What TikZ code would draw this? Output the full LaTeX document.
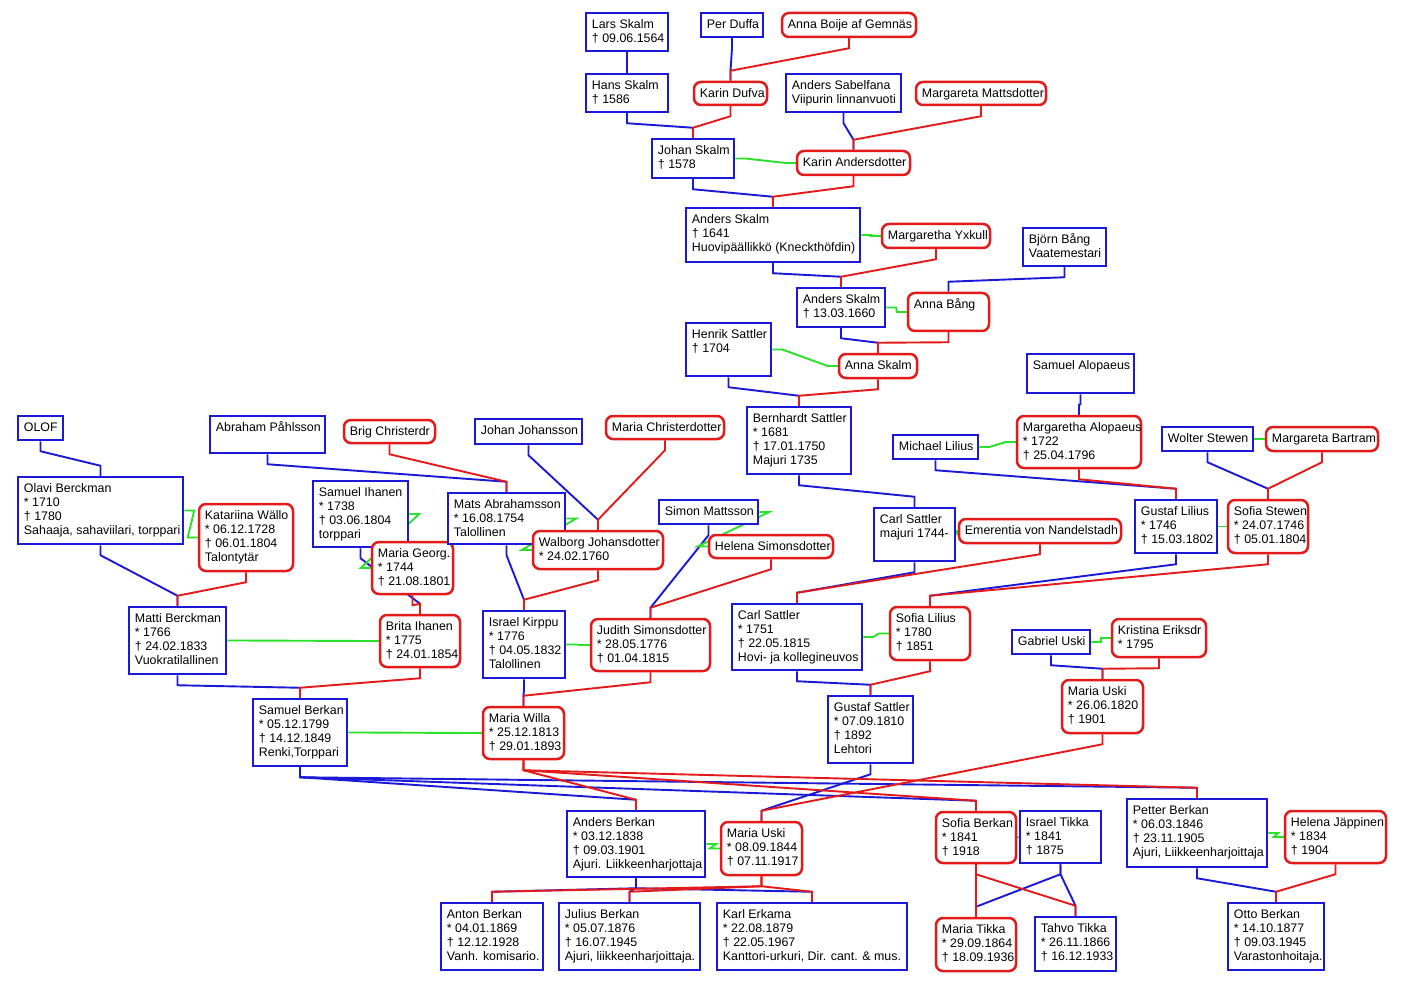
\documentclass[tikz,border=0pt]{standalone}
\usepackage{fontspec}
\setmainfont{Liberation Sans}
\usetikzlibrary{fit,backgrounds}
\definecolor{mblue}{RGB}{25,25,215}
\definecolor{fred}{RGB}{228,25,25}
\definecolor{mgreen}{RGB}{40,225,40}
\tikzset{
  manbox/.style={draw=mblue, line width=2.5pt, fill=white, inner sep=0pt},
  womanbox/.style={draw=fred, line width=2.5pt, fill=white, inner sep=0pt, rounded corners=7pt},
  txt/.style={anchor=north west, inner sep=0pt, align=left, font=\fontsize{12.4}{14}\selectfont},
  faline/.style={draw=mblue, line width=1.9pt},
  moline/.style={draw=fred, line width=1.9pt},
  marr/.style={draw=mgreen, line width=1.9pt},
}
\newcommand\Man[4]{\node[manbox, fit={(#2) (#3)}] (#1) {};
  \node[txt] (#1-t) at ([shift={(7,7)}]#1.north west) {\strut #4};}
\newcommand\Woman[4]{\node[womanbox, fit={(#2) (#3)}] (#1) {};
  \node[txt] (#1-t) at ([shift={(7,7)}]#1.north west) {\strut #4};}
\newcommand\PC[3]{\draw[#1] (#2.south) -- ++(0,10) -- ([yshift=10pt]#3.north) -- (#3.north);}
\newcommand\MR[2]{\draw[marr] (#1.east) -- ++(10,0) -- ([xshift=-10pt]#2.west) -- (#2.west);}
\begin{document}
\begin{tikzpicture}[x=1pt, y=-1pt]
\useasboundingbox (0,0) rectangle (1403,984);
% ---- people ----
\Man{lars}{586,13}{668,51}{Lars Skalm\\† 09.06.1564}
\Man{per}{701,13}{763,37}{Per Duffa}
\Woman{boije}{782,13}{916,37}{Anna Boije af Gemnäs}
\Man{hans}{586,74}{668,112}{Hans Skalm\\† 1586}
\Woman{dufva}{694,82}{767,105}{Karin Dufva}
\Man{sabel}{786,74}{901,112}{Anders Sabelfana\\Viipurin linnanvuoti}
\Woman{mattsd}{916,82}{1046,105}{Margareta Mattsdotter}
\Man{johan}{652,139}{734,178}{Johan Skalm\\† 1578}
\Woman{karina}{797,151}{910,175}{Karin Andersdotter}
\Man{andersa}{686,208}{860,262}{Anders Skalm\\† 1641\\Huovipäällikkö (Kneckthöfdin)}
\Woman{yxkull}{882,224}{990,248}{Margaretha Yxkull}
\Man{bjorn}{1023,228}{1106,266}{Björn Bång\\Vaatemestari}
\Man{andersb}{797,288}{885,327}{Anders Skalm\\† 13.03.1660}
\Woman{annabang}{908,293}{989,331}{Anna Bång}
\Man{henrik}{686,323}{771,376}{Henrik Sattler\\† 1704}
\Woman{annaskalm}{839,354}{917,378}{Anna Skalm}
\Man{alop}{1027,354}{1134,393}{Samuel Alopaeus}
\Man{olof}{18,416}{63,440}{OLOF}
\Man{abraham}{210,416}{325,453}{Abraham Påhlsson}
\Woman{brig}{344,420}{435,443}{Brig Christerdr}
\Man{johjoh}{475,419}{582,444}{Johan Johansson}
\Woman{christ}{606,416}{724,439}{Maria Christerdotter}
\Man{bern}{747,407}{851,474}{Bernhardt Sattler\\* 1681\\† 17.01.1750\\Majuri 1735}
\Man{michael}{893,435}{978,459}{Michael Lilius}
\Woman{malop}{1017,416}{1141,468}{Margaretha Alopaeus\\* 1722\\† 25.04.1796}
\Man{wolter}{1162,427}{1253,451}{Wolter Stewen}
\Woman{bartram}{1266,427}{1378,451}{Margareta Bartram}
\Man{olavi}{18,477}{183,544}{Olavi Berckman\\* 1710\\† 1780\\Sahaaja, sahaviilari, torppari}
\Woman{katariina}{199,504}{293,571}{Katariina Wällo\\* 06.12.1728\\† 06.01.1804\\Talontytär}
\Man{ihanen}{313,481}{408,547}{Samuel Ihanen\\* 1738\\† 03.06.1804\\torppari}
\Woman{georg}{372,542}{453,594}{Maria Georg.\\* 1744\\† 21.08.1801}
\Man{mats}{448,493}{565,544}{Mats Abrahamsson\\* 16.08.1754\\Talollinen}
\Woman{walborg}{533,531}{663,569}{Walborg Johansdotter\\* 24.02.1760}
\Man{simon}{659,500}{758,524}{Simon Mattsson}
\Woman{helenas}{709,535}{833,558}{Helena Simonsdotter}
\Man{carlm}{874,508}{955,561}{Carl Sattler\\majuri 1744-}
\Woman{emerentia}{959,519}{1121,543}{Emerentia von Nandelstadh}
\Man{gustafl}{1135,500}{1217,553}{Gustaf Lilius\\* 1746\\† 15.03.1802}
\Woman{sofias}{1228,500}{1308,553}{Sofia Stewen\\* 24.07.1746\\† 05.01.1804}
\Man{matti}{129,607}{226,674}{Matti Berckman\\* 1766\\† 24.02.1833\\Vuokratilallinen}
\Woman{brita}{380,615}{460,667}{Brita Ihanen\\* 1775\\† 24.01.1854}
\Man{kirppu}{483,611}{565,678}{Israel Kirppu\\* 1776\\† 04.05.1832\\Talollinen}
\Woman{judith}{591,619}{710,671}{Judith Simonsdotter\\* 28.05.1776\\† 01.04.1815}
\Man{carl}{732,604}{862,670}{Carl Sattler\\* 1751\\† 22.05.1815\\Hovi- ja kollegineuvos}
\Woman{sofial}{890,607}{970,660}{Sofia Lilius\\* 1780\\† 1851}
\Man{gabriel}{1012,630}{1090,654}{Gabriel Uski}
\Woman{kristina}{1112,619}{1206,657}{Kristina Eriksdr\\* 1795}
\Woman{mariaua}{1062,680}{1143,733}{Maria Uski\\* 26.06.1820\\† 1901}
\Man{samuel}{253,699}{347,766}{Samuel Berkan\\* 05.12.1799\\† 14.12.1849\\Renki,Torppari}
\Woman{willa}{483,707}{564,759}{Maria Willa\\* 25.12.1813\\† 29.01.1893}
\Man{gustafs}{828,696}{913,763}{Gustaf Sattler\\* 07.09.1810\\† 1892\\Lehtori}
\Man{anders}{567,811}{705,877}{Anders Berkan\\* 03.12.1838\\† 09.03.1901\\Ajuri. Liikkeenharjottaja}
\Woman{mariaub}{721,822}{802,875}{Maria Uski\\* 08.09.1844\\† 07.11.1917}
\Woman{sofiab}{936,812}{1016,863}{Sofia Berkan\\* 1841\\† 1918}
\Man{tikka}{1020,811}{1101,863}{Israel Tikka\\* 1841\\† 1875}
\Man{petter}{1127,799}{1267,867}{Petter Berkan\\* 06.03.1846\\† 23.11.1905\\Ajuri, Liikkeenharjoittaja}
\Woman{helenaj}{1285,811}{1386,863}{Helena Jäppinen\\* 1834\\† 1904}
\Man{anton}{441,903}{543,970}{Anton Berkan\\* 04.01.1869\\† 12.12.1928\\Vanh. komisario.}
\Man{julius}{559,903}{700,970}{Julius Berkan\\* 05.07.1876\\† 16.07.1945\\Ajuri, liikkeenharjoittaja.}
\Man{karl}{717,903}{907,970}{Karl Erkama\\* 22.08.1879\\† 22.05.1967\\Kanttori-urkuri, Dir. cant. \& mus.}
\Woman{mariat}{936,918}{1016,971}{Maria Tikka\\* 29.09.1864\\† 18.09.1936}
\Man{tahvo}{1035,917}{1116,971}{Tahvo Tikka\\* 26.11.1866\\† 16.12.1933}
\Man{otto}{1228,903}{1324,970}{Otto Berkan\\* 14.10.1877\\† 09.03.1945\\Varastonhoitaja.}
% ---- connectors ----
\begin{scope}[on background layer]
\fill[white] (0,0) rectangle (1403,984);
% fathers
\PC{faline}{lars}{hans}
\PC{faline}{per}{dufva}
\PC{faline}{hans}{johan}
\PC{faline}{sabel}{karina}
\PC{faline}{johan}{andersa}
\PC{faline}{andersa}{andersb}
\PC{faline}{bjorn}{annabang}
\PC{faline}{andersb}{annaskalm}
\PC{faline}{henrik}{bern}
\PC{faline}{alop}{malop}
\PC{faline}{olof}{olavi}
\PC{faline}{abraham}{mats}
\PC{faline}{johjoh}{walborg}
\PC{faline}{bern}{carlm}
\PC{faline}{michael}{gustafl}
\PC{faline}{wolter}{sofias}
\PC{faline}{olavi}{matti}
\PC{faline}{ihanen}{brita}
\PC{faline}{mats}{kirppu}
\PC{faline}{simon}{judith}
\PC{faline}{carlm}{carl}
\PC{faline}{gustafl}{sofial}
\PC{faline}{matti}{samuel}
\PC{faline}{kirppu}{willa}
\PC{faline}{carl}{gustafs}
\PC{faline}{gabriel}{mariaua}
\PC{faline}{samuel}{anders}
\PC{faline}{samuel}{sofiab}
\PC{faline}{samuel}{petter}
\PC{faline}{gustafs}{mariaub}
\PC{faline}{anders}{anton}
\PC{faline}{anders}{julius}
\PC{faline}{anders}{karl}
\PC{faline}{tikka}{mariat}
\PC{faline}{tikka}{tahvo}
\PC{faline}{petter}{otto}
% mothers
\PC{moline}{boije}{dufva}
\PC{moline}{dufva}{johan}
\PC{moline}{mattsd}{karina}
\PC{moline}{karina}{andersa}
\PC{moline}{yxkull}{andersb}
\PC{moline}{annabang}{annaskalm}
\PC{moline}{annaskalm}{bern}
\PC{moline}{brig}{mats}
\PC{moline}{christ}{walborg}
\PC{moline}{malop}{gustafl}
\PC{moline}{bartram}{sofias}
\PC{moline}{katariina}{matti}
\PC{moline}{georg}{brita}
\PC{moline}{walborg}{kirppu}
\PC{moline}{helenas}{judith}
\PC{moline}{emerentia}{carl}
\PC{moline}{sofias}{sofial}
\PC{moline}{brita}{samuel}
\PC{moline}{judith}{willa}
\PC{moline}{sofial}{gustafs}
\PC{moline}{kristina}{mariaua}
\PC{moline}{willa}{anders}
\PC{moline}{willa}{sofiab}
\PC{moline}{willa}{petter}
\PC{moline}{mariaua}{mariaub}
\PC{moline}{mariaub}{anton}
\PC{moline}{mariaub}{julius}
\PC{moline}{mariaub}{karl}
\PC{moline}{sofiab}{mariat}
\PC{moline}{sofiab}{tahvo}
\PC{moline}{helenaj}{otto}
% marriages
\MR{johan}{karina}
\MR{andersa}{yxkull}
\MR{andersb}{annabang}
\MR{henrik}{annaskalm}
\MR{michael}{malop}
\MR{wolter}{bartram}
\MR{olavi}{katariina}
\MR{ihanen}{georg}
\MR{mats}{walborg}
\MR{simon}{helenas}
\MR{carlm}{emerentia}
\MR{gustafl}{sofias}
\MR{matti}{brita}
\MR{kirppu}{judith}
\MR{carl}{sofial}
\MR{gabriel}{kristina}
\MR{samuel}{willa}
\MR{anders}{mariaub}
\MR{petter}{helenaj}
\draw[marr] (sofiab.east) -- (tikka.west);
\end{scope}
\end{tikzpicture}
\end{document}
